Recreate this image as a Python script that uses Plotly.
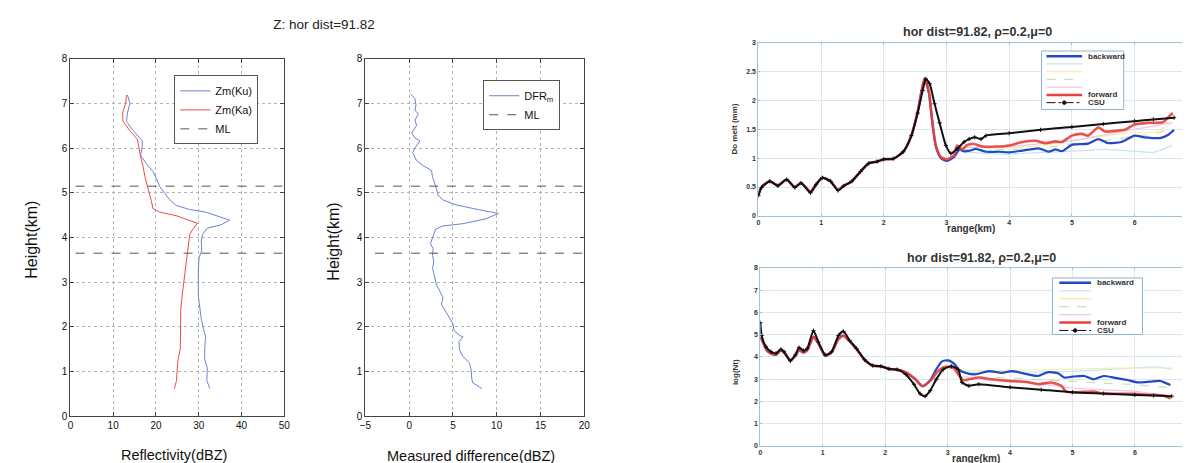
import plotly.graph_objects as go

# ---------------- data: left panel (reflectivity profiles) ----------------
ku_height = [7.19, 7.0, 6.79, 6.6, 6.39, 6.17, 6.03, 5.84, 5.66, 5.48, 5.3, 5.15, 5.0, 4.86, 4.72,
             4.63, 4.57, 4.46, 4.39, 4.28, 4.21, 4.07, 3.92, 3.70, 3.56, 3.27, 2.98, 2.69, 2.40,
             2.18, 1.96, 1.78, 1.52, 1.27, 1.09, 0.80, 0.62]
ku_refl = [13.35, 13.9, 13.35, 13.1, 14.7, 16.8, 16.8, 16.4, 17.7, 19.3, 20.2, 20.8, 22.0, 23.1, 24.7,
           27.8, 31.6, 35.0, 37.2, 35.1, 32.0, 30.9, 30.6, 30.7, 30.1, 29.9, 29.9, 29.9, 30.3,
           30.6, 31.1, 31.6, 31.4, 31.4, 32.0, 31.9, 32.6]
ka_height = [7.19, 7.0, 6.79, 6.6, 6.39, 6.21, 6.03, 5.81, 5.59, 5.37, 5.15, 5.0, 4.83, 4.65, 4.57,
             4.49, 4.39, 4.32, 4.17, 4.07, 3.77, 3.41, 3.12, 2.76, 2.40, 2.03, 1.67, 1.52, 1.23,
             0.80, 0.62]
ka_refl = [13.1, 12.9, 12.2, 12.3, 13.9, 15.6, 16.0, 16.4, 17.0, 17.4, 18.0, 18.5, 18.9, 19.3, 20.8,
           24.7, 27.8, 29.7, 28.5, 27.9, 27.5, 27.0, 26.6, 26.2, 25.8, 25.8, 25.8, 25.7, 25.1,
           24.8, 24.3]
ml_heights = [5.15, 3.65]
ml_x_left = [1.2, 50]
ml_x_mid = [-3.9, 20]

# ---------------- data: middle panel (DFR) ----------------
dfr_height = [7.22, 7.11, 6.96, 6.85, 6.76, 6.63, 6.51, 6.34, 6.23, 6.16, 6.01, 5.90, 5.72, 5.61,
              5.50, 5.35, 5.21, 5.06, 4.95, 4.84, 4.73, 4.62, 4.54, 4.42, 4.31, 4.26, 4.19, 4.04,
              3.86, 3.75, 3.60, 3.46, 3.31, 3.16, 2.94, 2.80, 2.65, 2.51, 2.40, 2.25, 2.07, 1.92,
              1.81, 1.78, 1.67, 1.48, 1.34, 1.19, 1.04, 0.83, 0.75, 0.62]
dfr_value = [0.1, 0.66, 0.78, 0.66, 1.04, 0.66, 0.85, 0.29, 0.66, 1.23, 0.66, 0.40, 0.85, 1.6,
             2.55, 2.67, 2.93, 3.12, 3.31, 3.87, 5.39, 8.03, 10.2, 8.78, 6.14, 3.87, 3.04, 2.74,
             2.44, 2.74, 2.67, 2.82, 2.67, 2.86, 3.12, 3.5, 3.87, 3.68, 3.99, 4.44, 5.0, 5.12,
             5.76, 6.14, 5.69, 5.76, 6.14, 6.9, 7.08, 7.16, 7.27, 8.33]

# ---------------- data: top-right panel (Do melt) ----------------
do_csu_r = [0.0, 0.05, 0.18, 0.31, 0.45, 0.58, 0.68, 0.83, 0.92, 1.02, 1.15, 1.27, 1.36, 1.49, 1.63,
            1.76, 1.89, 2.0, 2.15, 2.31, 2.44, 2.54, 2.62, 2.67, 2.73, 2.81, 2.89, 2.99, 3.07, 3.17,
            3.28, 3.36, 3.45, 3.55, 3.63, 4.0, 4.5, 5.0, 5.5, 6.0, 6.3, 6.63]
do_csu = [0.35, 0.49, 0.60, 0.52, 0.63, 0.49, 0.57, 0.40, 0.54, 0.66, 0.60, 0.44, 0.52, 0.60, 0.77,
          0.91, 0.94, 0.98, 0.99, 1.11, 1.39, 1.78, 2.17, 2.37, 2.29, 1.94, 1.61, 1.22, 1.08, 1.16,
          1.28, 1.33, 1.36, 1.33, 1.39, 1.43, 1.49, 1.54, 1.59, 1.64, 1.67, 1.70]
do_early_r = [0.0, 0.05, 0.18, 0.31, 0.45, 0.58, 0.68, 0.83, 0.92, 1.02, 1.15, 1.27, 1.36, 1.49,
              1.63, 1.76, 1.89, 2.0, 2.15, 2.31, 2.44, 2.54]
do_early = [0.37, 0.50, 0.60, 0.53, 0.63, 0.50, 0.57, 0.42, 0.55, 0.66, 0.60, 0.45, 0.52, 0.60,
            0.77, 0.91, 0.94, 0.98, 0.99, 1.11, 1.39, 1.80]
do_fwd_tail_r = [2.65, 2.72, 2.77, 2.83, 2.91, 3.01, 3.12, 3.17, 3.25, 3.32, 3.42, 3.58, 3.79, 4.0,
                 4.21, 4.42, 4.58, 4.74, 4.84, 5.0, 5.16, 5.26, 5.42, 5.53, 5.68, 5.84, 6.0, 6.21,
                 6.45, 6.55, 6.61]
do_fwd_tail = [2.38, 2.15, 1.67, 1.22, 1.02, 0.98, 1.05, 1.22, 1.15, 1.22, 1.25, 1.20, 1.20, 1.22,
               1.28, 1.30, 1.26, 1.29, 1.28, 1.39, 1.42, 1.39, 1.53, 1.46, 1.47, 1.49, 1.58, 1.61,
               1.62, 1.72, 1.78]
do_bwd_tail_r = [2.65, 2.72, 2.77, 2.83, 2.91, 3.01, 3.12, 3.17, 3.21, 3.27, 3.37, 3.47, 3.63, 3.84,
                 4.0, 4.21, 4.47, 4.63, 4.74, 4.84, 5.0, 5.26, 5.42, 5.58, 5.79, 6.0, 6.16, 6.42,
                 6.53, 6.63]
do_bwd_tail = [2.37, 2.12, 1.65, 1.20, 1.00, 0.95, 1.02, 1.10, 1.16, 1.12, 1.13, 1.16, 1.11, 1.11,
               1.10, 1.13, 1.17, 1.11, 1.15, 1.12, 1.23, 1.25, 1.33, 1.26, 1.28, 1.39, 1.36, 1.35,
               1.40, 1.49]
do_faint_r = [3.2, 3.6, 4.0, 4.5, 5.0, 5.5, 6.0, 6.3, 6.6]
do_cyan = [1.12, 1.08, 1.07, 1.10, 1.12, 1.15, 1.12, 1.10, 1.22]
do_yellow = [1.20, 1.18, 1.18, 1.22, 1.30, 1.38, 1.45, 1.45, 1.60]
do_green = [1.15, 1.13, 1.15, 1.17, 1.25, 1.30, 1.38, 1.42, 1.50]
do_magenta = [1.18, 1.19, 1.20, 1.25, 1.30, 1.40, 1.50, 1.55, 1.62]

# ---------------- data: bottom-right panel (log Nt) ----------------
nt_csu_r = [0.0, 0.02, 0.09, 0.17, 0.25, 0.33, 0.38, 0.48, 0.56, 0.62, 0.69, 0.75, 0.85, 0.93, 1.04,
            1.14, 1.25, 1.33, 1.43, 1.54, 1.67, 1.80, 1.93, 2.06, 2.19, 2.33, 2.46, 2.56, 2.64, 2.72,
            2.82, 2.93, 3.06, 3.17, 3.23, 3.34, 3.50, 4.0, 4.5, 5.0, 5.5, 6.0, 6.3, 6.59]
nt_csu = [5.54, 4.96, 4.45, 4.23, 4.16, 4.34, 4.23, 3.82, 4.09, 4.42, 4.28, 4.38, 5.18, 4.67, 4.09,
          4.23, 4.96, 5.15, 4.74, 4.38, 3.87, 3.61, 3.58, 3.46, 3.43, 3.21, 2.77, 2.34, 2.23, 2.48,
          3.0, 3.43, 3.58, 3.43, 2.85, 2.70, 2.77, 2.63, 2.52, 2.41, 2.35, 2.29, 2.26, 2.23]
nt_early_r = [0.0, 0.05, 0.10, 0.17, 0.25, 0.33, 0.38, 0.48, 0.56, 0.62, 0.69, 0.75, 0.85, 0.93,
              1.04, 1.14, 1.25, 1.33, 1.43, 1.54, 1.67, 1.80, 1.93, 2.06, 2.19, 2.33, 2.48, 2.60]
nt_early = [4.90, 4.60, 4.30, 4.15, 4.10, 4.30, 4.20, 3.85, 4.05, 4.30, 4.20, 4.30, 4.90, 4.60,
            4.05, 4.20, 4.80, 4.95, 4.70, 4.35, 3.87, 3.60, 3.58, 3.46, 3.43, 3.30, 3.00, 2.68]
nt_fwd_tail_r = [2.72, 2.85, 2.96, 3.09, 3.19, 3.25, 3.34, 3.50, 3.71, 3.97, 4.24, 4.45, 4.66, 4.82,
                 4.90, 5.08, 5.34, 5.50, 5.71, 5.97, 6.24, 6.45, 6.57]
nt_fwd_tail = [2.92, 3.36, 3.55, 3.50, 3.14, 2.95, 2.99, 3.07, 2.99, 2.92, 2.88, 2.77, 2.85, 2.70,
               2.44, 2.41, 2.44, 2.34, 2.34, 2.34, 2.29, 2.26, 2.12]
nt_bwd_tail_r = [2.72, 2.82, 2.91, 3.01, 3.12, 3.18, 3.29, 3.44, 3.66, 3.87, 4.03, 4.29, 4.45, 4.61,
                 4.77, 4.87, 5.0, 5.19, 5.34, 5.50, 5.66, 5.88, 6.04, 6.25, 6.40, 6.57]
nt_bwd_tail = [2.95, 3.45, 3.80, 3.84, 3.65, 3.43, 3.28, 3.21, 3.36, 3.28, 3.36, 3.21, 3.14, 3.31,
               3.26, 3.07, 3.11, 3.14, 2.99, 3.14, 3.07, 2.96, 2.85, 2.89, 2.92, 2.73]
nt_faint_r = [3.2, 3.6, 4.0, 4.5, 5.0, 5.5, 6.0, 6.3, 6.6]
nt_cyan = [3.30, 3.30, 3.30, 3.32, 3.35, 3.42, 3.50, 3.55, 3.45]
nt_yellow = [3.40, 3.38, 3.40, 3.42, 3.45, 3.48, 3.50, 3.50, 3.50]
nt_green = [3.10, 3.08, 3.05, 2.98, 2.90, 2.82, 2.75, 2.68, 2.60]
nt_magenta = [3.00, 2.98, 2.95, 2.80, 2.60, 2.52, 2.45, 2.35, 2.25]

# ---------------- text ----------------
main_title = "Z: hor dist=91.82"
right_title = "hor dist=91.82, \u03c1=0.2,\u03bc=0"
legend_names = ["backward", "", "", "", "", "forward", "CSU"]

# ---------------- styling ----------------
W, H = 1190, 463
FONT = "Liberation Sans, Arial, sans-serif"
KU_C = "#6d80d2"
KA_C = "#f04a4a"
ML_C = "#555555"
BWD_C = "#2448c8"
FWD_C = "#e8403c"
CSU_C = "#111111"
CYAN_C = "#bfe6f2"
YEL_C = "#f3eeb0"
GRN_C = "#c6e3b0"
MAG_C = "#efc6e6"
styles = [(BWD_C, "solid", 2.5), (CYAN_C, "solid", 1.2), (YEL_C, "solid", 1.2),
          (GRN_C, "dash", 1.2), (MAG_C, "solid", 1.2), (FWD_C, "solid", 2.5), (CSU_C, "dashdot", 1.0)]


def px(xp):
    return xp / W


def py(yp):
    return 1 - yp / H


fig = go.Figure()

# left panel
fig.add_trace(go.Scatter(x=ku_refl, y=ku_height, mode="lines", name="Zm(Ku)",
                         line=dict(color=KU_C, width=1), xaxis="x", yaxis="y", legend="legend"))
fig.add_trace(go.Scatter(x=ka_refl, y=ka_height, mode="lines", name="Zm(Ka)",
                         line=dict(color=KA_C, width=1), xaxis="x", yaxis="y", legend="legend"))
ml_x, ml_y = [], []
for h in ml_heights:
    ml_x += [ml_x_left[0], ml_x_left[1], None]
    ml_y += [h, h, None]
fig.add_trace(go.Scatter(x=ml_x, y=ml_y, mode="lines", name="ML",
                         line=dict(color=ML_C, width=1, dash="dash"), xaxis="x", yaxis="y",
                         legend="legend"))

# middle panel
fig.add_trace(go.Scatter(x=dfr_value, y=dfr_height, mode="lines", name="DFR<sub>m</sub>",
                         line=dict(color=KU_C, width=1), xaxis="x2", yaxis="y2", legend="legend2"))
ml_x2, ml_y2 = [], []
for h in ml_heights:
    ml_x2 += [ml_x_mid[0], ml_x_mid[1], None]
    ml_y2 += [h, h, None]
fig.add_trace(go.Scatter(x=ml_x2, y=ml_y2, mode="lines", name="ML",
                         line=dict(color=ML_C, width=1, dash="dash"), xaxis="x2", yaxis="y2",
                         legend="legend2"))


def add_right(xa, ya, faint_r, faints, early_r, early, bwd_r, bwd, fwd_r, fwd, csu_r, csu):
    for vals, (c, d, w) in zip(faints, styles[1:5]):
        fig.add_trace(go.Scatter(x=faint_r, y=vals, mode="lines", showlegend=False,
                                 line=dict(color=c, width=w, dash=d, shape="spline", smoothing=0.6),
                                 xaxis=xa, yaxis=ya))
    fig.add_trace(go.Scatter(x=early_r + bwd_r, y=early + bwd, mode="lines", showlegend=False,
                             line=dict(color=BWD_C, width=2.2, shape="spline", smoothing=0.6),
                             xaxis=xa, yaxis=ya))
    fig.add_trace(go.Scatter(x=early_r + fwd_r, y=early + fwd, mode="lines", showlegend=False,
                             line=dict(color=FWD_C, width=2.6, shape="spline", smoothing=0.6),
                             opacity=0.9, xaxis=xa, yaxis=ya))
    fig.add_trace(go.Scatter(x=csu_r, y=csu, mode="lines+markers", showlegend=False,
                             line=dict(color=CSU_C, width=2, shape="spline", smoothing=0.6),
                             marker=dict(symbol="cross-thin", size=3, color=CSU_C,
                                         line=dict(color=CSU_C, width=1)),
                             xaxis=xa, yaxis=ya))


add_right("x3", "y3", do_faint_r, [do_cyan, do_yellow, do_green, do_magenta],
          do_early_r, do_early, do_bwd_tail_r, do_bwd_tail, do_fwd_tail_r, do_fwd_tail,
          do_csu_r, do_csu)
add_right("x4", "y4", nt_faint_r, [nt_cyan, nt_yellow, nt_green, nt_magenta],
          nt_early_r, nt_early, nt_bwd_tail_r, nt_bwd_tail, nt_fwd_tail_r, nt_fwd_tail,
          nt_csu_r, nt_csu)

# ---------------- axes ----------------
left_ax = dict(showline=True, linecolor="#444", linewidth=1, mirror="ticks", ticks="inside",
               ticklen=4, tickcolor="#444", showgrid=True, gridcolor="#b4b4b4", griddash="dot",
               gridwidth=1, zeroline=False, tickfont=dict(family=FONT, size=10, color="#111"))
right_ax = dict(showline=True, linecolor="#9fc2da", linewidth=1, mirror="ticks", ticks="inside",
                ticklen=2, tickcolor="#9fc2da", showgrid=True, gridcolor="#dbe8f1", gridwidth=1,
                zeroline=False, tickfont=dict(family=FONT, size=7, color="#333", weight="bold"))

ly0, ly1 = py(413), py(46)
fig.update_layout(
    xaxis=dict(left_ax, domain=[px(57), px(273)], range=[0, 50], dtick=10, anchor="y"),
    yaxis=dict(left_ax, domain=[ly0, ly1], range=[0, 8], dtick=1, anchor="x"),
    xaxis2=dict(left_ax, domain=[px(355), px(576)], range=[-5, 20], dtick=5, anchor="y2"),
    yaxis2=dict(left_ax, domain=[ly0, ly1], range=[0, 8], dtick=1, anchor="x2"),
    xaxis3=dict(right_ax, domain=[px(752), px(1189)], range=[0, 6.9], dtick=1, anchor="y3"),
    yaxis3=dict(right_ax, domain=[py(207.3), py(29.3)], range=[0, 3], dtick=0.5, anchor="x3"),
    xaxis4=dict(right_ax, domain=[px(754), px(1189)], range=[0, 6.9], dtick=1, anchor="y4"),
    yaxis4=dict(right_ax, domain=[py(443.3), py(260.7)], range=[0, 8], dtick=1, anchor="x4"),
)

# ---------------- legends (left panels: plotly legends) ----------------
leg_common = dict(bgcolor="white", bordercolor="#555", borderwidth=1,
                  font=dict(family=FONT, size=11, color="#111"), xanchor="left", yanchor="top",
                  tracegroupgap=0)
fig.update_layout(
    legend=dict(leg_common, x=px(162), y=py(63)),
    legend2=dict(leg_common, x=px(474), y=py(68)),
)

# ---------------- right panels: legend keys drawn as layout decorations ----------------
shapes, annotations = [], []


def right_legend(box, x0, x1, xt, y_first, step):
    shapes.append(dict(type="rect", xref="paper", yref="paper", x0=px(box[0]), x1=px(box[2]),
                       y0=py(box[3]), y1=py(box[1]), line=dict(color="#8fb3cc", width=1),
                       fillcolor="white", layer="above"))
    for i, (name, (c, d, w)) in enumerate(zip(legend_names, styles)):
        yy = py(y_first + i * step)
        shapes.append(dict(type="line", xref="paper", yref="paper", x0=px(x0), x1=px(x1),
                           y0=yy, y1=yy, line=dict(color=c, width=w, dash=d), layer="above"))
        if name:
            annotations.append(dict(text=name, x=px(xt), y=yy, xref="paper", yref="paper",
                                    xanchor="left", yanchor="middle", showarrow=False,
                                    font=dict(family=FONT, size=8, color="#333", weight="bold")))
        if name == "CSU":
            xm = (x0 + x1) / 2
            shapes.append(dict(type="circle", xref="paper", yref="paper", x0=px(xm - 1.8),
                               x1=px(xm + 1.8), y0=yy - 1.8 / H, y1=yy + 1.8 / H,
                               fillcolor=c, line=dict(color=c, width=1), layer="above"))


right_legend((1038, 38, 1121, 98), 1043, 1079, 1083, 43.3, 7.95)
right_legend((1049, 271, 1140, 329), 1056, 1088, 1092, 276, 8.15)


def ann(text, x, y, size, rot=0, bold=False, color="#111"):
    f = dict(family=FONT, size=size, color=color)
    if bold:
        f["weight"] = "bold"
    annotations.append(dict(text=text, x=px(x), y=py(y), xref="paper", yref="paper",
                            xanchor="center", yanchor="middle", showarrow=False,
                            textangle=rot, font=f))


ann("Height(km)", 18, 232, 16, rot=-90)
ann("Height(km)", 323, 234, 16, rot=-90)
ann("Reflectivity(dBZ)", 162, 453, 14.5)
ann("Measured difference(dBZ)", 462, 454, 14.5)
ann(right_title, 973, 18, 12.5, bold=True, color="#333")
ann(right_title, 977, 250, 12.5, bold=True, color="#333")
ann("range(km)", 967, 220, 10, bold=True, color="#333")
ann("range(km)", 972, 456, 10, bold=True, color="#333")
ann("Do melt (mm)", 728, 118, 8, rot=-90, bold=True, color="#333")
ann("log(Nt)", 729, 368, 8, rot=-90, bold=True, color="#333")

fig.update_layout(
    width=W, height=H, autosize=False,
    margin=dict(l=0, r=0, t=0, b=0),
    paper_bgcolor="white", plot_bgcolor="white",
    font=dict(family=FONT, color="#111"),
    title=dict(text=main_title, x=px(316), y=py(16.7), xanchor="center", yanchor="middle",
               font=dict(family=FONT, size=13.5, color="#222")),
    shapes=shapes, annotations=annotations,
)

fig.write_html("out.html")
